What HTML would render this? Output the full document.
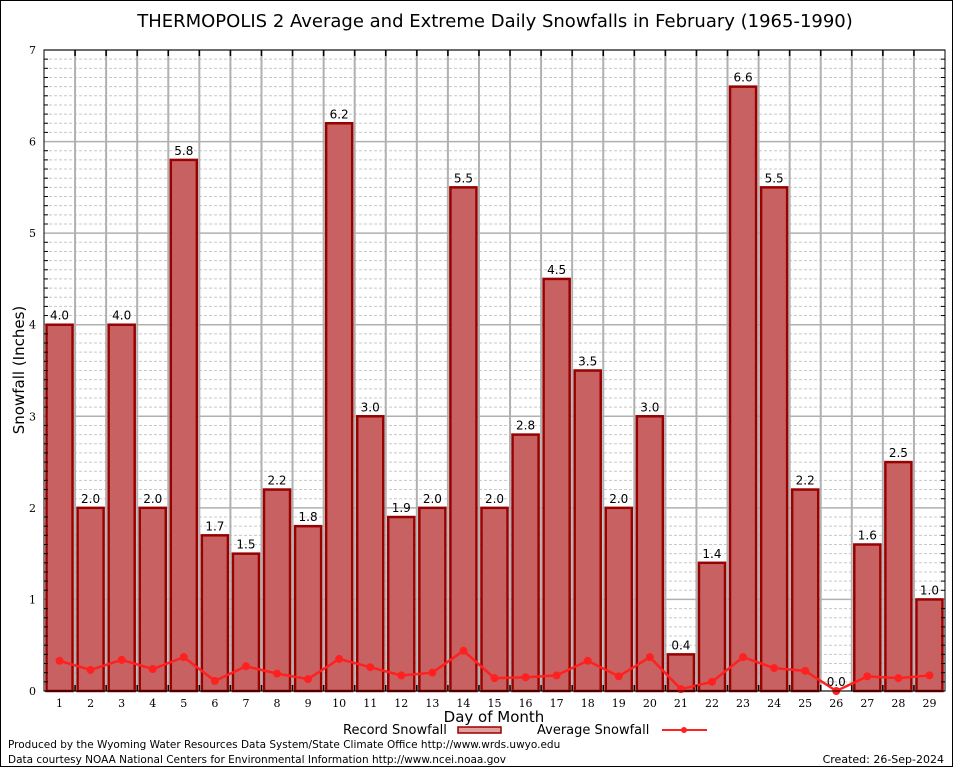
<!DOCTYPE html>
<html><head><meta charset="utf-8"><style>
body{margin:0;background:#fff}
svg{display:block}
text{font-family:"DejaVu Sans","Liberation Sans",sans-serif}
.tick{font-family:"DejaVu Serif","Liberation Serif",serif;font-size:11px}
</style></head><body>
<svg id="chart" width="954" height="768">
<rect x="0.5" y="0.5" width="952" height="766" fill="#fff" stroke="#000"/>
<text x="495" y="27" font-size="18" text-anchor="middle">THERMOPOLIS 2 Average and Extreme Daily Snowfalls in February (1965-1990)</text>
<g id="grid"></g>
<g id="bars"></g>
<g id="avg"></g>
<g id="axes"></g>
<text x="24" y="370" font-size="15" text-anchor="middle" transform="rotate(-90 24 370)">Snowfall (Inches)</text>
<text x="494" y="722" font-size="15" text-anchor="middle">Day of Month</text>
<g>
<text x="343" y="734" font-size="13">Record Snowfall</text>
<rect x="458" y="727" width="43" height="6" fill="#e0a0a0" stroke="#990000" stroke-width="1.5"/>
<text x="537" y="734" font-size="13">Average Snowfall</text>
<line x1="662" y1="730" x2="707" y2="730" stroke="#ff2020" stroke-width="2"/>
<circle cx="684" cy="730" r="3" fill="#ff2020"/>
</g>
<text x="8" y="748" font-size="10.5">Produced by the Wyoming Water Resources Data System/State Climate Office http://www.wrds.uwyo.edu</text>
<text x="8" y="763" font-size="10.5">Data courtesy NOAA National Centers for Environmental Information http://www.ncei.noaa.gov</text>
<text x="944" y="763" font-size="11" text-anchor="end">Created: 26-Sep-2024</text>
</svg>
<script>
const days = [1,2,3,4,5,6,7,8,9,10,11,12,13,14,15,16,17,18,19,20,21,22,23,24,25,26,27,28,29];
const recordSnow = [4.0,2.0,4.0,2.0,5.8,1.7,1.5,2.2,1.8,6.2,3.0,1.9,2.0,5.5,2.0,2.8,4.5,3.5,2.0,3.0,0.4,1.4,6.6,5.5,2.2,0.0,1.6,2.5,1.0];
const avgSnow = [0.33,0.23,0.34,0.24,0.37,0.11,0.27,0.19,0.13,0.35,0.26,0.17,0.20,0.44,0.14,0.15,0.17,0.33,0.16,0.37,0.02,0.10,0.37,0.25,0.22,0.00,0.16,0.14,0.17];
const yTicks = [0,1,2,3,4,5,6,7];

const L=44,R=945,T=50,B=691,YMAX=7;
const step=(R-L)/days.length;
const xc=i=>L+step*(i+0.5);
const y=v=>B-(v/YMAX)*(B-T);
const NS="http://www.w3.org/2000/svg";
function mk(tag,attrs,parent){const e=document.createElementNS(NS,tag);for(const k in attrs)e.setAttribute(k,attrs[k]);parent.appendChild(e);return e;}
const grid=document.getElementById('grid'),bars=document.getElementById('bars'),avg=document.getElementById('avg'),axes=document.getElementById('axes');

for(let k=1;k<YMAX*10;k++){ if(k%10===0) continue;
  const l=mk('line',{x1:L,x2:R,y1:y(k/10),y2:y(k/10),stroke:'#c8c8c8','stroke-dasharray':'3,2','stroke-width':1},grid);
  
  
  mk('line',{x1:L,x2:L+4,y1:y(k/10),y2:y(k/10),stroke:'#000'},axes);
  mk('line',{x1:R-4,x2:R,y1:y(k/10),y2:y(k/10),stroke:'#000'},axes);
}
yTicks.forEach(v=>{
  const l=mk('line',{x1:L,x2:R,y1:y(v),y2:y(v),stroke:'#b0b0b0','stroke-width':1.5},grid);
  
  
  const t=mk('text',{x:L-8,y:y(v)+4,'text-anchor':'end',class:'tick'},axes);
  t.textContent=v;
  
  
});
for(let i=1;i<days.length;i++){
  const x=L+step*i;
  const l=mk('line',{x1:x,x2:x,y1:T,y2:B,stroke:'#b0b0b0','stroke-width':2},grid);
  
  
  mk('line',{x1:x,x2:x,y1:T,y2:T+6,stroke:'#000','stroke-width':1.5},axes);
  mk('line',{x1:x,x2:x,y1:B-6,y2:B,stroke:'#000','stroke-width':1.5},axes);
}
const frame=mk('rect',{x:L,y:T,width:R-L,height:B-T,fill:'none',stroke:'#000','stroke-width':1},axes);



days.forEach((d,i)=>{
  const v=recordSnow[i],bw=step-5,x0=xc(i)-bw/2;
  if(v>0){
    const r=mk('rect',{x:x0,y:y(v),width:bw,height:B-y(v),fill:'#c86262',stroke:'#990000','stroke-width':2.5},bars);
    
    
  }
  const t=mk('text',{x:xc(i),y:y(v)-5,'text-anchor':'middle','font-size':12},bars);
  t.textContent=v.toFixed(1);
  
  
  const xt=mk('text',{x:xc(i),y:B+16,'text-anchor':'middle',class:'tick'},axes);
  xt.textContent=d;
  
  
});
const pts=avgSnow.map((v,i)=>xc(i)+','+y(v)).join(' ');
const pl=mk('polyline',{points:pts,fill:'none',stroke:'#ff2020','stroke-width':2.5},avg);


avgSnow.forEach((v,i)=>{
  const c=mk('circle',{cx:xc(i),cy:y(v),r:4,fill:'#ff2020'},avg);
  
  
});
</script>
</body></html>
